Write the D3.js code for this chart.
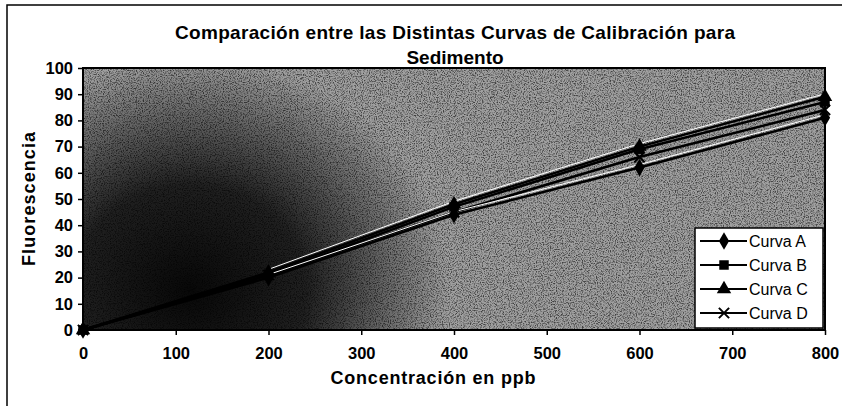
<!DOCTYPE html>
<html>
<head>
<meta charset="utf-8">
<script src="https://cdn.jsdelivr.net/npm/d3@7"></script>
<style>
	body { margin: 0; background: #fff; }
	text { font-family: "Liberation Sans", Arial, sans-serif; }
</style>
</head>
<body>
<script>
const w = 842,
	h = 406;

// concentraciones (ppb) y lecturas de cada curva
const concentraciones = [0, 200, 400, 600, 800];
const curvaA = [0, 20, 44, 62, 81];
const curvaB = [0, 21, 47, 69, 87];
const curvaC = [0, 22, 48, 70, 89];
const curvaD = [0, 21, 45, 66, 84];
const nombres = ['Curva A', 'Curva B', 'Curva C', 'Curva D'];
const simbolos = ['diamond', 'square', 'triangle', 'cross'];
const xTicks = [0, 100, 200, 300, 400, 500, 600, 700, 800];
const yTicks = [0, 10, 20, 30, 40, 50, 60, 70, 80, 90, 100];

const series = [curvaA, curvaB, curvaC, curvaD].map((vals, i) => ({
	name: nombres[i],
	symbol: simbolos[i],
	points: vals.map((v, j) => ({x: concentraciones[j], y: v}))
}));

const margin = {top: 68, right: 17, bottom: 76, left: 83};

const svg = d3.select('body')
	.append('svg')
	.attr('width', w)
	.attr('height', h);

const x = d3.scaleLinear().domain([0, 800]).range([margin.left, w - margin.right]);
const y = d3.scaleLinear().domain([0, 100]).range([h - margin.bottom, margin.top]);

//noisy scanned-looking background
const defs = svg.append('defs');
const filter = defs.append('filter').attr('id', 'grain').attr('x', 0).attr('y', 0).attr('width', 1).attr('height', 1);
filter.append('feTurbulence').attr('type', 'fractalNoise').attr('baseFrequency', 0.85).attr('numOctaves', 2).attr('seed', 3).attr('result', 'n');
filter.append('feColorMatrix').attr('type', 'matrix')
	.attr('values', '0 0 0 0 0  0 0 0 0 0  0 0 0 0 0  0 0 0 -3 1.7')
	.attr('in', 'n');
const shade = defs.append('radialGradient').attr('id', 'shade')
	.attr('gradientUnits', 'userSpaceOnUse')
	.attr('cx', 190).attr('cy', 290).attr('r', 260)
	.attr('gradientTransform', 'translate(190,290) scale(1,0.9) translate(-190,-290)');
shade.append('stop').attr('offset', 0).attr('stop-color', '#000').attr('stop-opacity', 0.95);
shade.append('stop').attr('offset', 0.45).attr('stop-color', '#000').attr('stop-opacity', 0.8);
shade.append('stop').attr('offset', 1).attr('stop-color', '#000').attr('stop-opacity', 0);

//outer frame
svg.append('path')
	.attr('d', `M7,${h}V5H${w}`)
	.attr('fill', 'none')
	.attr('stroke', '#000')
	.attr('stroke-width', 1.5);

const pw = x(800) - x(0),
	ph = y(0) - y(100);

svg.append('rect')
	.attr('x', x(0)).attr('y', y(100)).attr('width', pw).attr('height', ph)
	.attr('fill', '#a0a0a0');
svg.append('rect')
	.attr('x', x(0)).attr('y', y(100)).attr('width', pw).attr('height', ph)
	.attr('fill', '#000')
	.attr('filter', 'url(#grain)')
	.attr('opacity', 0.6);
svg.append('rect')
	.attr('x', x(0)).attr('y', y(100)).attr('width', pw).attr('height', ph)
	.attr('fill', 'url(#shade)');

//axes
const xAxis = svg.append('g')
	.attr('transform', `translate(0,${y(0)})`)
	.call(d3.axisBottom(x).tickValues(xTicks).tickSize(5).tickPadding(12));
const yAxis = svg.append('g')
	.attr('transform', `translate(${x(0)},0)`)
	.call(d3.axisLeft(y).tickValues(yTicks).tickSize(5).tickPadding(5));
[xAxis, yAxis].forEach((g) => {
	g.select('.domain').remove();
	g.selectAll('line').attr('stroke', '#000').attr('stroke-width', 1.5);
	g.selectAll('text')
		.attr('fill', '#000')
		.style('font-size', '16.5px')
		.style('font-weight', 'bold');
});

svg.append('rect')
	.attr('x', x(0)).attr('y', y(100)).attr('width', pw).attr('height', ph)
	.attr('fill', 'none')
	.attr('stroke', '#000')
	.attr('stroke-width', 2);

//curves
const line = d3.line().x((d) => x(d.x)).y((d) => y(d.y));
const symbolType = {
	diamond: d3.symbolDiamond,
	square: d3.symbolSquare,
	triangle: d3.symbolTriangle,
	cross: d3.symbolX
};
const symbolSize = {diamond: 90, square: 90, triangle: 90, cross: 70};

series.forEach((s) => {
	svg.append('path')
		.datum(s.points)
		.attr('d', line)
		.attr('fill', 'none')
		.attr('stroke', '#000')
		.attr('stroke-width', 2.5);
});
//light streaks along the lines, as in the scan
series.filter((s, i) => i % 2 === 0).forEach((s) => {
	svg.append('path')
		.datum(s.points.slice(1))
		.attr('d', line)
		.attr('transform', 'translate(0,-3)')
		.attr('fill', 'none')
		.attr('stroke', '#fff')
		.attr('stroke-width', 1);
});
series.forEach((s) => {
	svg.selectAll(null)
		.data(s.points)
		.enter()
		.append('path')
		.attr('transform', (d) => `translate(${x(d.x)},${y(d.y)})`)
		.attr('d', d3.symbol(symbolType[s.symbol], symbolSize[s.symbol]))
		.attr('fill', s.symbol === 'cross' ? 'none' : '#000')
		.attr('stroke', '#000')
		.attr('stroke-width', s.symbol === 'cross' ? 2 : 0);
});

//title
const title = svg.append('text')
	.attr('text-anchor', 'middle')
	.style('font-size', '19px')
	.style('font-weight', 'bold');
title.append('tspan').attr('x', 455).attr('y', 39)
	.attr('textLength', 560).attr('lengthAdjust', 'spacing')
	.text('Comparación entre las Distintas Curvas de Calibración para');
title.append('tspan').attr('x', 455).attr('y', 64)
	.text('Sedimento');

//axis titles
svg.append('text')
	.attr('x', 433)
	.attr('y', 384)
	.attr('text-anchor', 'middle')
	.attr('textLength', 205)
	.attr('lengthAdjust', 'spacing')
	.style('font-size', '18px')
	.style('font-weight', 'bold')
	.text('Concentración en ppb');
svg.append('text')
	.attr('transform', `translate(35,${(y(0) + y(100)) / 2}) rotate(-90)`)
	.attr('text-anchor', 'middle')
	.attr('textLength', 134)
	.attr('lengthAdjust', 'spacing')
	.style('font-size', '18px')
	.style('font-weight', 'bold')
	.text('Fluorescencia');

//legend
const legend = svg.append('g').attr('transform', 'translate(695,228)');
legend.append('rect')
	.attr('width', 128)
	.attr('height', 100)
	.attr('fill', '#fff')
	.attr('stroke', '#000')
	.attr('stroke-width', 1.5);
const item = legend.selectAll('g')
	.data(series)
	.enter()
	.append('g')
	.attr('transform', (d, i) => `translate(0,${13 + i * 24})`);
item.append('line')
	.attr('x1', 5).attr('x2', 52)
	.attr('stroke', '#000')
	.attr('stroke-width', 2);
item.append('path')
	.attr('transform', 'translate(29,0)')
	.attr('d', (d) => d3.symbol(symbolType[d.symbol], symbolSize[d.symbol])())
	.attr('fill', (d) => d.symbol === 'cross' ? 'none' : '#000')
	.attr('stroke', '#000')
	.attr('stroke-width', (d) => d.symbol === 'cross' ? 2 : 0);
item.append('text')
	.attr('x', 54)
	.attr('dy', '0.35em')
	.style('font-size', '16px')
	.text((d) => d.name);
</script>
</body>
</html>
